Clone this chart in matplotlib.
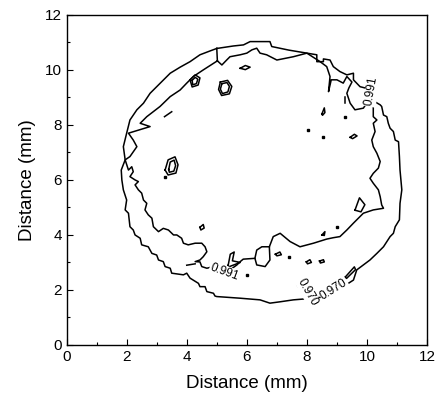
import numpy as np
import matplotlib.pyplot as plt

plt.rcParams['font.family'] = ['Liberation Sans', 'DejaVu Sans']

# contour 0.970 (outer ring) in mm
outer_x = [5.00, 5.55, 5.89, 6.11, 6.77, 6.83, 7.40, 8.00, 8.33, 8.33,
           8.55, 8.55, 8.77, 8.88, 9.10, 9.33, 9.55, 9.55, 9.77, 9.99,
           10.10, 10.16, 10.44, 10.49, 10.55, 10.66, 10.71, 10.77, 10.88, 10.94,
           11.05, 11.08, 11.10, 11.16, 11.10, 11.08, 10.94, 10.88, 10.77, 10.55,
           10.33, 10.10, 9.88, 9.66, 9.55, 9.21, 8.66, 8.22, 7.55, 7.11,
           6.77, 6.44, 5.78, 5.00, 4.94, 4.89, 4.67, 4.61, 4.44, 4.39,
           4.11, 4.00, 3.89, 3.50, 3.45, 3.28, 3.22, 3.06, 3.00, 2.84,
           2.72, 2.50, 2.45, 2.28, 2.22, 2.11, 2.06, 1.95, 2.00, 1.89,
           1.84, 1.82, 1.95, 1.89, 2.00, 2.11, 2.34, 2.56, 2.78, 3.00,
           3.45, 3.78, 4.11, 4.44, 4.80, 5.00]
outer_y = [10.78, 10.87, 10.91, 11.03, 11.03, 10.85, 10.72, 10.61, 10.55, 10.30,
           10.30, 10.40, 10.36, 10.12, 9.94, 9.82, 9.88, 9.64, 9.39, 9.33,
           9.15, 8.91, 8.73, 8.67, 8.36, 8.30, 8.06, 7.88, 7.76, 7.45,
           7.39, 6.85, 6.36, 5.64, 5.15, 4.55, 4.30, 4.06, 3.94, 3.57,
           3.33, 3.09, 2.91, 2.73, 2.36, 2.12, 1.76, 1.70, 1.64, 1.57,
           1.52, 1.64, 1.70, 1.76, 1.78, 1.88, 1.94, 2.12, 2.12, 2.24,
           2.43, 2.61, 2.55, 2.61, 2.79, 2.85, 3.03, 3.09, 3.27, 3.33,
           3.57, 3.64, 3.88, 4.00, 4.18, 4.30, 4.79, 4.91, 5.27, 5.64,
           6.00, 6.36, 6.73, 7.21, 7.70, 8.18, 8.55, 8.79, 9.15, 9.39,
           9.88, 10.10, 10.30, 10.55, 10.70, 10.78]

# contour 0.991 (inner ring)
inner_x = [5.00, 5.02, 5.17, 5.33, 5.44, 5.78, 6.00, 6.17, 6.33, 6.44,
           6.66, 7.00, 7.55, 8.00, 8.44, 8.66, 8.77, 8.72, 8.81, 9.00,
           9.21, 9.33, 9.50, 9.40, 9.33, 9.44, 9.60, 9.88, 9.99, 10.21,
           10.21, 10.33, 10.21, 10.27, 10.16, 10.21, 10.33, 10.44, 10.38, 10.21,
           10.10, 10.21, 10.38, 10.44, 10.49, 10.55, 10.21, 9.88, 9.55, 9.33,
           9.10, 8.88, 8.66, 8.22, 7.77, 7.44, 7.11, 6.88, 6.75, 6.77,
           6.61, 6.33, 6.27, 5.88, 5.78, 5.67, 5.44, 4.89, 4.67, 4.50,
           4.44, 4.28, 4.44, 4.55, 4.67, 4.61, 4.50, 4.28, 4.05, 3.89,
           3.83, 3.67, 3.56, 3.39, 3.22, 3.06, 2.89, 2.84, 2.72, 2.61,
           2.67, 2.56, 2.50, 2.39, 2.28, 2.39, 2.28, 2.11, 2.22, 2.17,
           2.06, 1.95, 2.11, 2.34, 2.22, 2.06, 2.78, 2.45, 2.67, 3.11,
           3.45, 3.78, 4.00, 4.22, 4.55, 5.02]
inner_y = [10.78, 10.33, 10.18, 10.36, 10.48, 10.55, 10.61, 10.73, 10.79, 10.61,
           10.55, 10.36, 10.48, 10.61, 10.30, 10.12, 9.76, 9.21, 9.64, 9.64,
           9.52, 9.76, 9.56, 9.35, 9.15, 8.79, 8.55, 8.61, 8.79, 8.67,
           8.30, 8.18, 8.06, 7.76, 7.45, 7.21, 6.97, 6.67, 6.43, 6.24,
           6.06, 5.88, 5.64, 5.39, 5.09, 4.97, 4.91, 4.79, 4.43, 4.18,
           3.94, 3.90, 3.85, 3.70, 3.57, 3.76, 4.06, 3.94, 3.57, 3.09,
           2.85, 2.91, 3.15, 3.12, 3.03, 2.91, 2.73, 2.85, 2.79, 2.85,
           3.02, 3.03, 3.09, 3.21, 3.39, 3.57, 3.70, 3.70, 3.64, 3.70,
           3.88, 4.00, 4.00, 4.18, 4.24, 4.12, 4.30, 4.61, 4.73, 4.91,
           5.15, 5.27, 5.52, 5.64, 5.82, 5.94, 6.00, 6.12, 6.30, 6.48,
           6.36, 6.73, 6.85, 7.21, 7.45, 7.70, 7.94, 8.06, 8.30, 8.67,
           9.03, 9.27, 9.52, 9.76, 10.00, 10.33]

# small closed islands (x list, y list)
islands = [
    ([5.12, 5.36, 5.50, 5.42, 5.16, 5.06, 5.12], [9.56, 9.62, 9.40, 9.13, 9.07, 9.29, 9.56]),
    ([5.17, 5.34, 5.42, 5.37, 5.19, 5.12, 5.17], [9.50, 9.54, 9.40, 9.20, 9.14, 9.30, 9.50]),
    ([4.11, 4.28, 4.44, 4.38, 4.18, 4.11], [9.64, 9.82, 9.71, 9.45, 9.38, 9.64]),
    ([4.18, 4.28, 4.37, 4.32, 4.20, 4.18], [9.62, 9.73, 9.66, 9.50, 9.46, 9.62]),
    ([5.78, 5.95, 6.11, 5.95, 5.78], [10.06, 10.16, 10.10, 10.01, 10.06]),
    ([3.28, 3.38, 3.61, 3.71, 3.64, 3.38, 3.28], [6.36, 6.73, 6.84, 6.55, 6.25, 6.18, 6.36]),
    ([3.40, 3.45, 3.58, 3.63, 3.57, 3.42, 3.40], [6.38, 6.65, 6.72, 6.52, 6.32, 6.28, 6.38]),
    ([6.27, 6.33, 6.50, 6.75], [3.15, 3.45, 3.57, 3.57]),
    ([8.50, 8.58, 8.60, 8.52, 8.50], [8.40, 8.62, 8.45, 8.35, 8.40]),
    ([9.44, 9.58, 9.67, 9.52, 9.44], [7.55, 7.66, 7.60, 7.50, 7.55]),
    ([4.44, 4.55, 4.58, 4.47, 4.44], [4.28, 4.38, 4.25, 4.18, 4.28]),
    ([9.60, 9.75, 9.93, 9.80, 9.60], [4.90, 5.35, 5.10, 4.84, 4.90]),
    ([8.50, 8.60, 8.58, 8.50], [4.00, 4.12, 3.98, 4.00]),
    ([5.38, 5.45, 5.58, 5.52, 5.78, 5.40, 5.38], [2.90, 3.30, 3.38, 3.06, 3.00, 2.84, 2.90]),
    ([6.95, 7.10, 7.15, 7.00, 6.95], [3.30, 3.38, 3.28, 3.24, 3.30]),
    ([7.98, 8.10, 8.15, 8.02, 7.98], [3.02, 3.10, 3.00, 2.95, 3.02]),
    ([8.42, 8.55, 8.58, 8.45, 8.42], [3.05, 3.10, 3.02, 2.98, 3.05]),
    ([9.27, 9.58, 9.62, 9.32, 9.27], [2.46, 2.84, 2.74, 2.42, 2.46]),
    ([7.67, 7.78, 7.84, 7.72, 7.67], [2.18, 2.24, 2.13, 2.10, 2.18]),
]

# short open strokes and dots
dashes = [
    ([3.26, 3.50], [8.30, 8.48]),
    ([9.27, 9.27], [8.80, 9.02]),
    ([4.00, 4.28], [2.90, 2.95]),
]
dot_x = [8.55, 8.05, 9.27, 3.28, 9.00, 6.00, 7.40]
dot_y = [7.57, 7.82, 8.30, 6.12, 4.30, 2.55, 3.20]

# contour labels: text, x, y, rotation
lab_text = ['0.991', '0.991', '0.970', '0.970']
lab_x = [10.15, 5.25, 8.90, 8.02]
lab_y = [9.22, 2.65, 2.02, 1.92]
lab_rot = [80, -20, 32, -60]

fig = plt.figure(figsize=(4.38, 4.03), dpi=100)
ax = fig.add_axes([0.152, 0.144, 0.823, 0.819])

lw = 1.1
ax.plot(outer_x, outer_y, color='black', lw=lw)
ax.plot(inner_x, inner_y, color='black', lw=lw)
for xs, ys in islands:
    ax.plot(xs, ys, color='black', lw=lw)
for xs, ys in dashes:
    ax.plot(xs, ys, color='black', lw=lw)
ax.plot(dot_x, dot_y, 's', color='black', ms=1.5)

for t, x, y, r in zip(lab_text, lab_x, lab_y, lab_rot):
    ax.text(x, y, t, rotation=r, ha='center', va='center', fontsize=8.5,
            bbox=dict(facecolor='white', edgecolor='none', pad=0.5), zorder=5)

ax.set_xlim(0, 12)
ax.set_ylim(0, 12)
ax.set_xticks(np.arange(0, 13, 2))
ax.set_yticks(np.arange(0, 13, 2))
ax.set_xticks(np.arange(1, 12, 2), minor=True)
ax.set_yticks(np.arange(1, 12, 2), minor=True)
ax.tick_params(direction='in', labelsize=11, length=4, width=0.8)
ax.tick_params(which='minor', direction='in', length=2.5, width=0.8)
for s in ax.spines.values():
    s.set_linewidth(1.0)

ax.set_xlabel('Distance (mm)', fontsize=13.5, labelpad=8)
ax.set_ylabel('Distance (mm)', fontsize=13.5, labelpad=6)

fig.savefig('out.png', dpi=100)
